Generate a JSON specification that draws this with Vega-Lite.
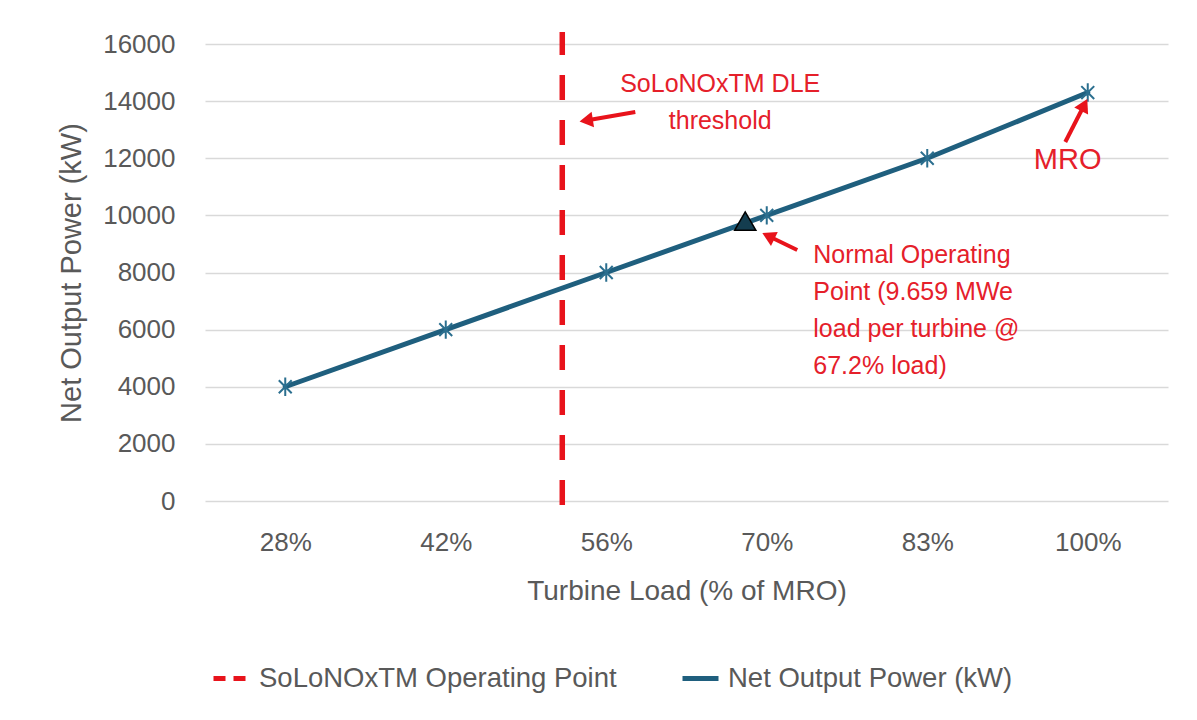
{
  "$schema": "https://vega.github.io/schema/vega-lite/v6.json",
  "width": 963,
  "height": 457,
  "autosize": {"type": "none"},
  "padding": {"left": 205, "top": 44, "right": 29, "bottom": 219},
  "background": "white",
  "config": {
    "view": {"stroke": null},
    "font": "Liberation Sans",
    "axis": {"labelColor": "#595959", "titleColor": "#595959", "labelFont": "Liberation Sans", "titleFont": "Liberation Sans", "titleFontWeight": "normal"},
    "legend": {"labelFont": "Liberation Sans"}
  },
  "datasets": {
    "net": [
      {"pos": 0, "load": "28%", "power": 4000},
      {"pos": 1, "load": "42%", "power": 6000},
      {"pos": 2, "load": "56%", "power": 8000},
      {"pos": 3, "load": "70%", "power": 10000},
      {"pos": 4, "load": "83%", "power": 12000},
      {"pos": 5, "load": "100%", "power": 14300}
    ]
  },
  "layer": [
    {
      "data": {"values": [{"pos": 1.726, "lo": -140, "hi": 16420}]},
      "mark": {"type": "rule", "strokeWidth": 5.5, "strokeDash": [25, 20], "strokeCap": "butt"},
      "encoding": {
        "x": {"field": "pos", "type": "quantitative"},
        "y": {"field": "lo", "type": "quantitative"},
        "y2": {"field": "hi"},
        "color": {"datum": "SoLoNOxTM Operating Point"}
      }
    },
    {
      "data": {"name": "net"},
      "mark": {"type": "line", "strokeWidth": 5, "strokeCap": "round"},
      "encoding": {
        "x": {
          "field": "pos", "type": "quantitative",
          "scale": {"domain": [-0.5, 5.5], "nice": false, "zero": false},
          "axis": {
            "values": [0, 1, 2, 3, 4, 5],
            "labelExpr": "['28%','42%','56%','70%','83%','100%'][datum.value]",
            "title": "Turbine Load (% of MRO)",
            "grid": false, "domain": false, "ticks": false,
            "labelFontSize": 26, "labelPadding": 28,
            "titleFontSize": 28, "titlePadding": 22
          }
        },
        "y": {
          "field": "power", "type": "quantitative",
          "scale": {"domain": [0, 16000], "nice": false},
          "axis": {
            "values": [0, 2000, 4000, 6000, 8000, 10000, 12000, 14000, 16000],
            "format": "d",
            "title": "Net Output Power (kW)",
            "grid": true, "gridColor": "#d9d9d9", "gridWidth": 1.5,
            "domain": false, "ticks": false,
            "labelFontSize": 26, "labelPadding": 30,
            "titleFontSize": 29, "titlePadding": 16
          }
        },
        "color": {
          "datum": "Net Output Power (kW)",
          "scale": {"domain": ["SoLoNOxTM Operating Point", "Net Output Power (kW)"], "range": ["#e8131b", "#1f5f7e"]},
          "legend": {
            "title": null,
            "orient": "none",
            "direction": "horizontal",
            "legendX": 6,
            "legendY": 614,
            "symbolType": "stroke",
            "symbolSize": 1296,
            "symbolStrokeWidth": 5,
            "labelFontSize": 27.5,
            "labelLimit": 0,
            "labelColor": "#595959",
            "columnPadding": 55,
            "labelOffset": 7,
            "encode": {"symbols": {"update": {"strokeDash": {"signal": "datum.value === 'SoLoNOxTM Operating Point' ? [12, 8] : null"}}}}
          }
        }
      }
    },
    {
      "data": {"name": "net"},
      "mark": {"type": "point", "shape": "M-0.7,-0.7L0.7,0.7M-0.7,0.7L0.7,-0.7M0,-1L0,1", "filled": false, "size": 340, "strokeWidth": 2, "color": "#2b6f8f", "opacity": 1},
      "encoding": {
        "x": {"field": "pos", "type": "quantitative"},
        "y": {"field": "power", "type": "quantitative"}
      }
    },
    {
      "data": {"values": [{"pos": 2.866, "power": 9800}]},
      "mark": {"type": "point", "shape": "triangle-up", "filled": true, "size": 450, "color": "#143d4f", "stroke": "#000000", "strokeWidth": 1.5, "opacity": 1},
      "encoding": {
        "x": {"field": "pos", "type": "quantitative"},
        "y": {"field": "power", "type": "quantitative"}
      }
    },
    {
      "data": {"values": [
        {"x1": 2.181, "y1": 13619, "x2": 1.875, "y2": 13320},
        {"x1": 3.19, "y1": 8788, "x2": 3.01, "y2": 9278},
        {"x1": 4.86, "y1": 12569, "x2": 4.978, "y2": 13864}
      ]},
      "mark": {"type": "rule", "strokeWidth": 4, "color": "#e8131b"},
      "encoding": {
        "x": {"field": "x1", "type": "quantitative"},
        "y": {"field": "y1", "type": "quantitative"},
        "x2": {"field": "x2"},
        "y2": {"field": "y2"}
      }
    },
    {
      "data": {"values": [{"x": 1.875, "y": 13320}]},
      "mark": {"type": "point", "shape": "triangle-up", "filled": true, "size": 240, "color": "#e8131b", "angle": 261, "opacity": 1},
      "encoding": {"x": {"field": "x", "type": "quantitative"}, "y": {"field": "y", "type": "quantitative"}}
    },
    {
      "data": {"values": [{"x": 3.01, "y": 9278}]},
      "mark": {"type": "point", "shape": "triangle-up", "filled": true, "size": 240, "color": "#e8131b", "angle": 296, "opacity": 1},
      "encoding": {"x": {"field": "x", "type": "quantitative"}, "y": {"field": "y", "type": "quantitative"}}
    },
    {
      "data": {"values": [{"x": 4.978, "y": 13864}]},
      "mark": {"type": "point", "shape": "triangle-up", "filled": true, "size": 240, "color": "#e8131b", "angle": 27, "opacity": 1},
      "encoding": {"x": {"field": "x", "type": "quantitative"}, "y": {"field": "y", "type": "quantitative"}}
    },
    {
      "data": {"values": [{"x": 2.71, "y": 14600, "label": "SoLoNOxTM DLE\nthreshold"}]},
      "mark": {"type": "text", "align": "center", "baseline": "middle", "fontSize": 25, "lineHeight": 37, "lineBreak": "\n", "color": "#e5202a"},
      "encoding": {"x": {"field": "x", "type": "quantitative"}, "y": {"field": "y", "type": "quantitative"}, "text": {"field": "label"}}
    },
    {
      "data": {"values": [{"x": 3.29, "y": 8612, "label": "Normal Operating\nPoint (9.659 MWe\nload per turbine @\n67.2% load)"}]},
      "mark": {"type": "text", "align": "left", "baseline": "middle", "fontSize": 25, "lineHeight": 37, "lineBreak": "\n", "color": "#e5202a"},
      "encoding": {"x": {"field": "x", "type": "quantitative"}, "y": {"field": "y", "type": "quantitative"}, "text": {"field": "label"}}
    },
    {
      "data": {"values": [{"x": 4.875, "y": 11940, "label": "MRO"}]},
      "mark": {"type": "text", "align": "center", "baseline": "middle", "fontSize": 29, "color": "#e5202a"},
      "encoding": {"x": {"field": "x", "type": "quantitative"}, "y": {"field": "y", "type": "quantitative"}, "text": {"field": "label"}}
    }
  ]
}
